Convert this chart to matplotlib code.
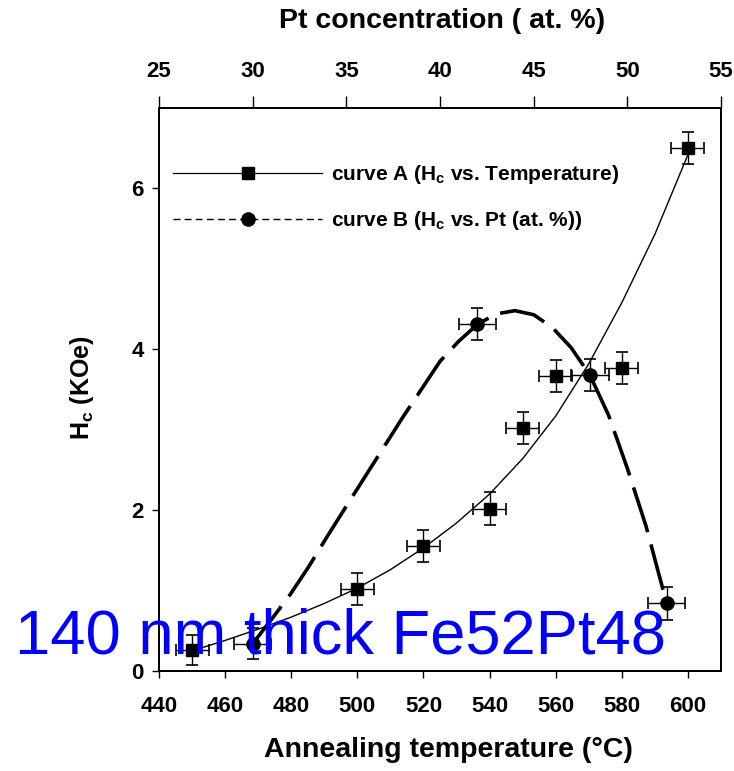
import matplotlib
matplotlib.use("Agg")
import matplotlib.pyplot as plt
from matplotlib.lines import Line2D

plt.rcParams['font.family'] = ['Liberation Sans', 'DejaVu Sans']
plt.rcParams['font.weight'] = 'bold'
plt.rcParams['mathtext.fontset'] = 'custom'
plt.rcParams['mathtext.rm'] = 'Liberation Sans:bold'
plt.rcParams['mathtext.bf'] = 'Liberation Sans:bold'
plt.rcParams['mathtext.it'] = 'Liberation Sans:bold'

# ---- data ----
tempA = [450, 500, 520, 540, 550, 560, 580, 600]
hcA = [0.26, 1.02, 1.55, 2.02, 3.02, 3.67, 3.77, 6.50]
tempA_err = [5, 5, 5, 5, 5, 5, 5, 5]
hcA_err = [0.19, 0.2, 0.2, 0.2, 0.2, 0.2, 0.2, 0.2]

ptB = [30, 42, 48, 52.1]
hcB = [0.34, 4.31, 3.68, 0.84]
ptB_err = [1, 1, 1, 1]
hcB_err = [0.19, 0.2, 0.2, 0.2]

fitA_T = [450, 460, 470, 480, 490, 500, 510, 520, 530, 540, 550, 560, 570, 580, 590, 600]
fitA_H = [0.25, 0.38, 0.52, 0.67, 0.84, 1.03, 1.26, 1.53, 1.84, 2.2, 2.64, 3.17, 3.82, 4.58, 5.43, 6.42]

fitB_Pt = [30, 31, 32, 33, 34, 35, 36.5, 38, 39, 40, 41, 42, 43, 44, 45, 46, 47, 48, 49, 50, 51, 52.1]
fitB_H = [0.34, 0.64, 0.95, 1.3, 1.68, 2.05, 2.6, 3.15, 3.5, 3.85, 4.1, 4.31, 4.44, 4.48,
          4.43, 4.27, 4.02, 3.68, 3.18, 2.52, 1.8, 0.84]

temp_ticks = [440, 460, 480, 500, 520, 540, 560, 580, 600]
pt_ticks = [25, 30, 35, 40, 45, 50, 55]
hc_ticks = [0, 2, 4, 6]

label_A = 'curve A (H$_\\mathrm{c}$ vs. Temperature)'
label_B = 'curve B (H$_\\mathrm{c}$ vs. Pt (at. %))'

# ---- figure ----
W, H = 734, 771
fig = plt.figure(figsize=(W / 100, H / 100), dpi=100)
ax = fig.add_axes([159 / W, (H - 671) / H, 562 / W, 563 / H])
ax.set_xlim(440, 610)
ax.set_ylim(0, 7)
ax2 = ax.twiny()
ax2.set_xlim(25, 55)

for a in (ax, ax2):
    for s in a.spines.values():
        s.set_linewidth(1.3)

ax.set_xticks(temp_ticks)
ax.set_yticks(hc_ticks)
ax2.set_xticks(pt_ticks)
ax.tick_params(axis='x', direction='out', length=5, width=1, pad=13, labelsize=16)
ax.tick_params(axis='y', direction='out', length=5, width=1, pad=6, labelsize=16)
ax2.tick_params(axis='x', direction='out', length=9, width=1, pad=10, labelsize=16)
for lab in ax.get_xticklabels() + ax.get_yticklabels() + ax2.get_xticklabels():
    lab.set_fontweight('bold')

# curve A
ax.plot(fitA_T, fitA_H, color='black', lw=1.0, zorder=2)
ax.errorbar(tempA, hcA, xerr=tempA_err, yerr=hcA_err, fmt='s', ms=8.5,
            color='black', ecolor='black', elinewidth=1, capsize=4, capthick=1.2, zorder=3)

# curve B
ax2.plot(fitB_Pt, fitB_H, color='black', lw=2.6, ls=(0, (13, 3.5)), zorder=2)
ax2.errorbar(ptB, hcB, xerr=ptB_err, yerr=hcB_err, fmt='o', ms=9.5,
             color='black', ecolor='black', elinewidth=1, capsize=4, capthick=1.2, zorder=3)

handles = [Line2D([], [], color='black', lw=0.9, marker='s', ms=8.5),
           Line2D([], [], color='black', lw=1.0, ls=(0, (5, 3)), marker='o', ms=9.5)]
ax.legend(handles, [label_A, label_B], loc='upper left', bbox_to_anchor=(0.025, 0.902),
          frameon=False, borderpad=0, borderaxespad=0, handlelength=7.15, handletextpad=0.45,
          labelspacing=1.1, numpoints=1, prop={'weight': 'bold', 'size': 15})

# axis labels
fig.text(82 / W, 1 - 388 / H, 'H$_\\mathrm{c}$ (KOe)', rotation=90, ha='center', va='center',
         fontsize=18, fontweight='bold')
fig.text(448 / W, 1 - 750 / H, 'Annealing temperature (\u00b0C)', ha='center', va='center',
         fontsize=20.5, fontweight='bold')
fig.text(442 / W, 1 - 21 / H, 'Pt concentration ( at. %)', ha='center', va='center',
         fontsize=20.5, fontweight='bold')

fig.text(15 / W, 1 - 653 / H, '140 nm thick Fe52Pt48', color='blue', fontsize=45.5,
         fontweight='normal', ha='left', va='baseline', zorder=10)

fig.savefig('out.png', dpi=100)
